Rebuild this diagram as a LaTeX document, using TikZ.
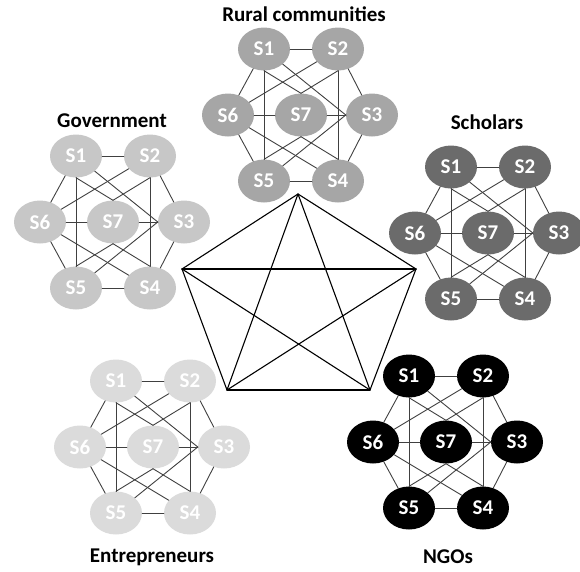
\documentclass[tikz,border=0pt]{standalone}
\usepackage{fontspec}
\setmainfont{Carlito}
\usetikzlibrary{shapes.geometric}
\definecolor{rurgray}{rgb}{0.65,0.65,0.65}
\definecolor{govgray}{rgb}{0.78,0.78,0.78}
\definecolor{schgray}{rgb}{0.42,0.42,0.42}
\definecolor{entgray}{rgb}{0.86,0.86,0.86}
\definecolor{ngoblack}{rgb}{0,0,0}
\definecolor{linegray}{rgb}{0.25,0.25,0.25}
\tikzset{stake/.style={ellipse,minimum width=52pt,minimum height=43pt,inner sep=0pt,text=white,font=\bfseries\fontsize{21}{23}\selectfont},
link/.style={color=linegray,line width=0.9pt},
grouplabel/.style={font=\bfseries\fontsize{21}{23}\selectfont}}
\begin{document}
\begin{tikzpicture}[x=1pt,y=-1pt,line cap=round,line join=round]
\useasboundingbox (0,0) rectangle (580,571);
\coordinate (P1) at (298,194);
\coordinate (P2) at (416,269);
\coordinate (P3) at (370,390);
\coordinate (P4) at (227,390);
\coordinate (P5) at (182,269);
\foreach \a/\b in {1/2,2/3,3/4,4/5,5/1,1/3,1/4,2/4,2/5,3/5}
\draw[line width=1.1pt] (P\a) -- (P\b);
\foreach \g/\cx/\cy/\col in {R/301/115/rurgray,G/113/222/govgray,C/488/233/schgray,E/153/447/entgray,N/446/442/ngoblack}
{
\node[stake,fill=\col] (\g7) at (\cx,\cy) {S7};
\node[stake,fill=\col] (\g1) at (\cx-37,\cy-66) {S1};
\node[stake,fill=\col] (\g2) at (\cx+37,\cy-66) {S2};
\node[stake,fill=\col] (\g3) at (\cx+71,\cy) {S3};
\node[stake,fill=\col] (\g4) at (\cx+37,\cy+66) {S4};
\node[stake,fill=\col] (\g5) at (\cx-37,\cy+66) {S5};
\node[stake,fill=\col] (\g6) at (\cx-73,\cy) {S6};
\foreach \a/\b in {1/2,2/3,3/4,4/5,5/6,6/1,6/7,7/3.west,1.south/5,2.south/4,1/3.west,5/3.west,2/6,6/4,1.south/7.north,2.south/7.north,5.north/7.south,4.north/7.south}
\draw[link] (\g\a) -- (\g\b);
}
\node[grouplabel] (rural) at (304,14) {Rural communities};
\node[grouplabel] (gov) at (112,121) {Government};
\node[grouplabel] (schol) at (487,122) {Scholars};
\node[grouplabel] (entre) at (152,557) {Entrepreneurs};
\node[grouplabel] (ngo) at (448,557) {NGOs};
\end{tikzpicture}
\end{document}
